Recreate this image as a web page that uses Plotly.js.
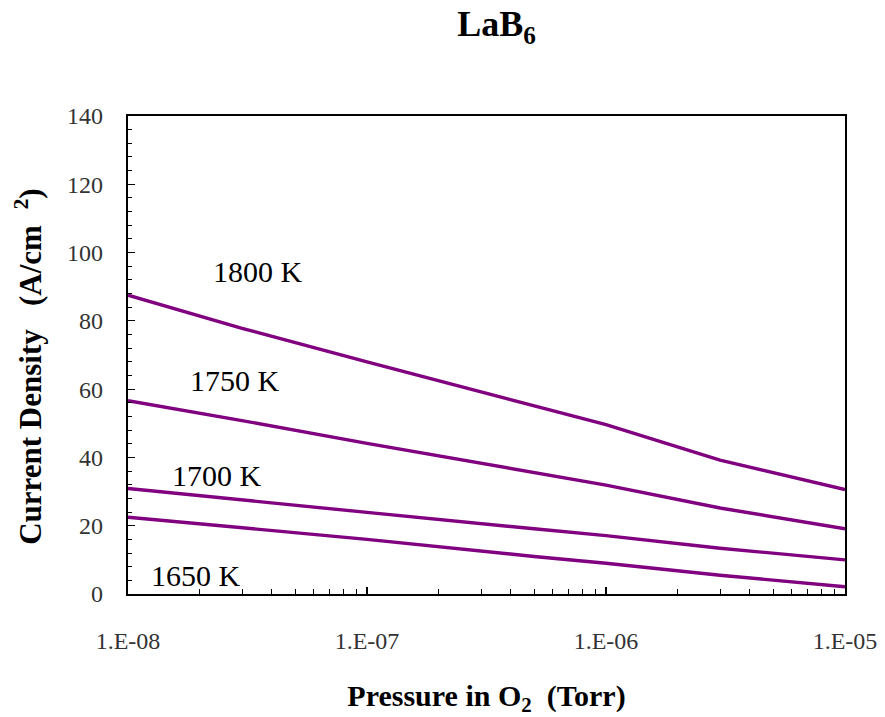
<!DOCTYPE html>
<html>
<head>
<meta charset="utf-8">
<script src="https://cdn.plot.ly/plotly-3.0.1.min.js"></script>
<style>html,body{margin:0;padding:0;background:#fff;}#chart{width:885px;height:717px;}</style>
</head>
<body>
<div id="chart"></div>
<script>
// Pressure in O2 (Torr)
const pressure = [1e-8, 3e-8, 1e-7, 5e-7, 1e-6, 3e-6, 1e-5];
// Current density (A/cm^2) per temperature
const j1800 = [87.5, 77.8, 68.0, 55.2, 49.6, 39.2, 30.6];
const j1750 = [56.6, 50.8, 44.1, 35.4, 31.9, 25.2, 19.1];
const j1700 = [30.9, 27.5, 23.9, 19.1, 17.1, 13.4, 10.0];
const j1650 = [22.5, 19.3, 16.0, 11.0, 9.0, 5.5, 2.1];
const seriesNames = ['1800 K', '1750 K', '1700 K', '1650 K'];
const seriesVals = [j1800, j1750, j1700, j1650];
const xTickVals = [1e-8, 1e-7, 1e-6, 1e-5];
const xTickText = ['1.E-08', '1.E-07', '1.E-06', '1.E-05'];

// label positions (log10 x, y)
const labelPos = [[-7.456, 94.6], [-7.552, 62.6], [-7.628, 34.6], [-7.715, 5.5]];

const minorX = [];
for (let k = -8; k < -5; k++) for (let d = 2; d <= 9; d++) minorX.push(d * Math.pow(10, k));

const font = 'Liberation Serif';
const traces = seriesVals.map((v, i) => ({
  x: pressure, y: v, type: 'scatter', mode: 'lines', name: seriesNames[i],
  line: {color: '#800080', width: 3.4}, showlegend: false
}));

const layout = {
  width: 885, height: 717,
  margin: {l: 128, r: 40, t: 116, b: 123},
  paper_bgcolor: '#fff', plot_bgcolor: '#fff',
  font: {family: font, color: '#000', size: 24},
  title: {text: '<b>LaB<sub>6</sub></b>', x: 0.561, xanchor: 'center', y: 0.967, yanchor: 'middle',
          font: {family: font, size: 36, color: '#000'}},
  xaxis: {
    type: 'log', range: [-8, -5], tickvals: xTickVals, ticktext: xTickText,
    ticks: 'inside', ticklen: 7, tickwidth: 1.2, tickcolor: '#000',
    showline: true, linecolor: '#000', linewidth: 2.2, mirror: true,
    showgrid: false, zeroline: false, ticklabelstandoff: 24,
    tickfont: {family: font, size: 24, color: '#333'},
    minor: {tickvals: minorX, ticks: 'inside', ticklen: 5, tickwidth: 1, tickcolor: '#000', showgrid: false},
    title: {text: '<b>Pressure in O<sub>2</sub>&nbsp;&nbsp;(Torr)</b>', standoff: 34,
            font: {family: font, size: 30, color: '#000'}}
  },
  yaxis: {
    range: [0, 140], dtick: 20, tick0: 0,
    ticks: 'inside', ticklen: 7, tickwidth: 1.2, tickcolor: '#000',
    showline: true, linecolor: '#000', linewidth: 2.2, mirror: true,
    showgrid: false, zeroline: false, ticklabelstandoff: 18,
    tickfont: {family: font, size: 24, color: '#333'},
    minor: {dtick: 4, ticks: 'inside', ticklen: 4, tickwidth: 1, tickcolor: '#000', showgrid: false},
    title: {text: '<b>Current Density&nbsp;&nbsp;&nbsp;(A/cm&nbsp;&nbsp;<sup>2</sup>)&nbsp;&nbsp;&nbsp;</b>', standoff: 16,
            font: {family: font, size: 31, color: '#000'}}
  },
  annotations: seriesNames.map((n, i) => ({
    text: n, x: labelPos[i][0], y: labelPos[i][1], xref: 'x', yref: 'y',
    showarrow: false, xanchor: 'center', yanchor: 'middle',
    font: {family: font, size: 30, color: '#000'}
  }))
};

Plotly.newPlot('chart', traces, layout, {displayModeBar: false, staticPlot: true});
</script>
</body>
</html>
